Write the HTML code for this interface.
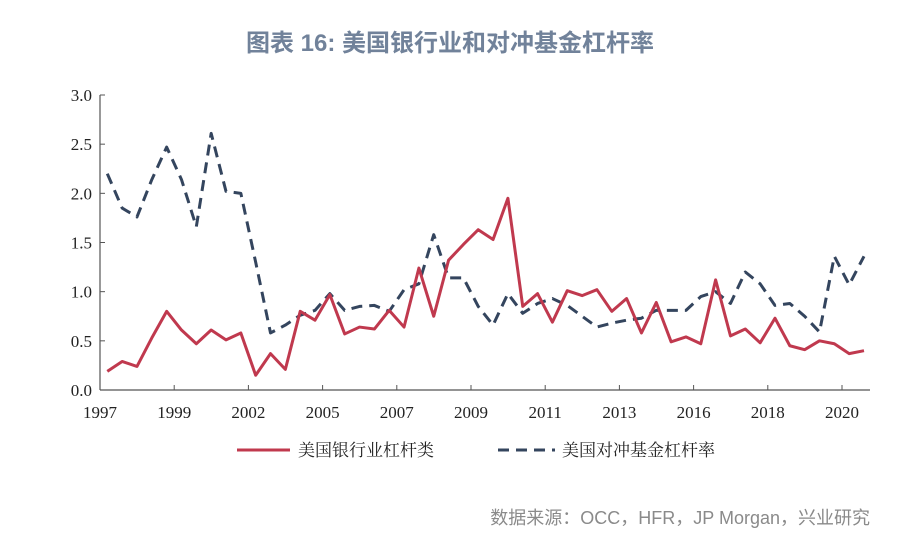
<!DOCTYPE html>
<html><head><meta charset="utf-8"><style>
html,body{margin:0;padding:0;background:#fff;}
body{width:900px;height:557px;position:relative;overflow:hidden;font-family:"Liberation Serif","Noto Serif CJK SC",serif;}
</style></head><body>
<div style="position:absolute;left:0;top:23px;width:900px;text-align:center;font-family:'Liberation Sans','Noto Sans CJK SC',sans-serif;font-size:24px;font-weight:bold;color:#71829a;">图表 16: 美国银行业和对冲基金杠杆率</div>
<svg id="chart" width="900" height="557" style="position:absolute;left:0;top:0"></svg>
<div style="position:absolute;right:30px;top:504px;font-family:'Liberation Sans','Noto Sans CJK SC',sans-serif;font-size:18px;color:#8a8a8a;">数据来源：OCC，HFR，JP Morgan，兴业研究</div>
<script>
const xLabels = ["1997","1999","2002","2005","2007","2009","2011","2013","2016","2018","2020"];
const yTicks = [0,0.5,1,1.5,2,2.5,3];
const bankLeverage = [0.19,0.29,0.24,0.53,0.80,0.61,0.47,0.61,0.51,0.58,0.15,0.37,0.21,0.80,0.71,0.97,0.57,0.64,0.62,0.81,0.64,1.24,0.75,1.32,1.48,1.63,1.53,1.95,0.85,0.98,0.69,1.01,0.96,1.02,0.80,0.93,0.58,0.89,0.49,0.54,0.47,1.12,0.55,0.62,0.48,0.73,0.45,0.41,0.50,0.47,0.37,0.40];
const hedgeLeverage = [2.20,1.85,1.76,2.14,2.47,2.14,1.66,2.61,2.02,2.00,1.30,0.58,0.66,0.76,0.81,0.98,0.81,0.85,0.86,0.80,1.02,1.08,1.58,1.14,1.14,0.85,0.66,0.98,0.78,0.88,0.93,0.86,0.75,0.64,0.68,0.71,0.73,0.81,0.81,0.81,0.95,1.00,0.88,1.20,1.08,0.86,0.88,0.75,0.59,1.36,1.07,1.36];
const NS="http://www.w3.org/2000/svg";
const svg=document.getElementById('chart');
const x0=100,x1=870,yTop=95,yBot=390;
const n=bankLeverage.length;
const px=i=>107.3+i*(864-107.3)/(n-1);
const py=v=>yBot-(v/3)*(yBot-yTop);
function mk(t,a){const e=document.createElementNS(NS,t);for(const k in a)e.setAttribute(k,a[k]);svg.appendChild(e);return e;}
let e=mk('line',{x1:x0,y1:yTop,x2:x0,y2:yBot,stroke:'#555','stroke-width':1.2});


e=mk('line',{x1:x0,y1:yBot,x2:x1,y2:yBot,stroke:'#555','stroke-width':1.2});


yTicks.forEach(v=>{
  mk('line',{x1:x0,y1:py(v),x2:x0+5,y2:py(v),stroke:'#555'});
  const t=mk('text',{x:x0-8,y:py(v)+6,'text-anchor':'end','font-size':17,fill:'#222'});
  t.textContent=v.toFixed(1);
  
  
});
xLabels.forEach((l,k)=>{
  const x=x0+k*74.2;
  mk('line',{x1:x,y1:yBot,x2:x,y2:yBot-5,stroke:'#555'});
  const t=mk('text',{x:x,y:yBot+28,'text-anchor':'middle','font-size':17,fill:'#222'});
  t.textContent=l;
  
  
});
function line(d,attrs,name){
  const p=mk('polyline',Object.assign({points:d.map((v,i)=>px(i)+','+py(v)).join(' '),fill:'none','stroke-linejoin':'round'},attrs));
  
  
}
line(hedgeLeverage,{stroke:'#34455e','stroke-width':3,'stroke-dasharray':'11,7'},'hedge-fund-leverage-line');
line(bankLeverage,{stroke:'#c0394e','stroke-width':3},'bank-leverage-line');
e=mk('line',{x1:237,y1:450,x2:290,y2:450,stroke:'#c0394e','stroke-width':3});


let t=mk('text',{x:298,y:456,'font-size':17,fill:'#222','font-family':'"Noto Serif CJK SC",serif'});t.textContent='美国银行业杠杆类';


e=mk('line',{x1:498,y1:450,x2:555,y2:450,stroke:'#34455e','stroke-width':3,'stroke-dasharray':'11,7'});


t=mk('text',{x:562,y:456,'font-size':17,fill:'#222','font-family':'"Noto Serif CJK SC",serif'});t.textContent='美国对冲基金杠杆率';


</script>
</body></html>
